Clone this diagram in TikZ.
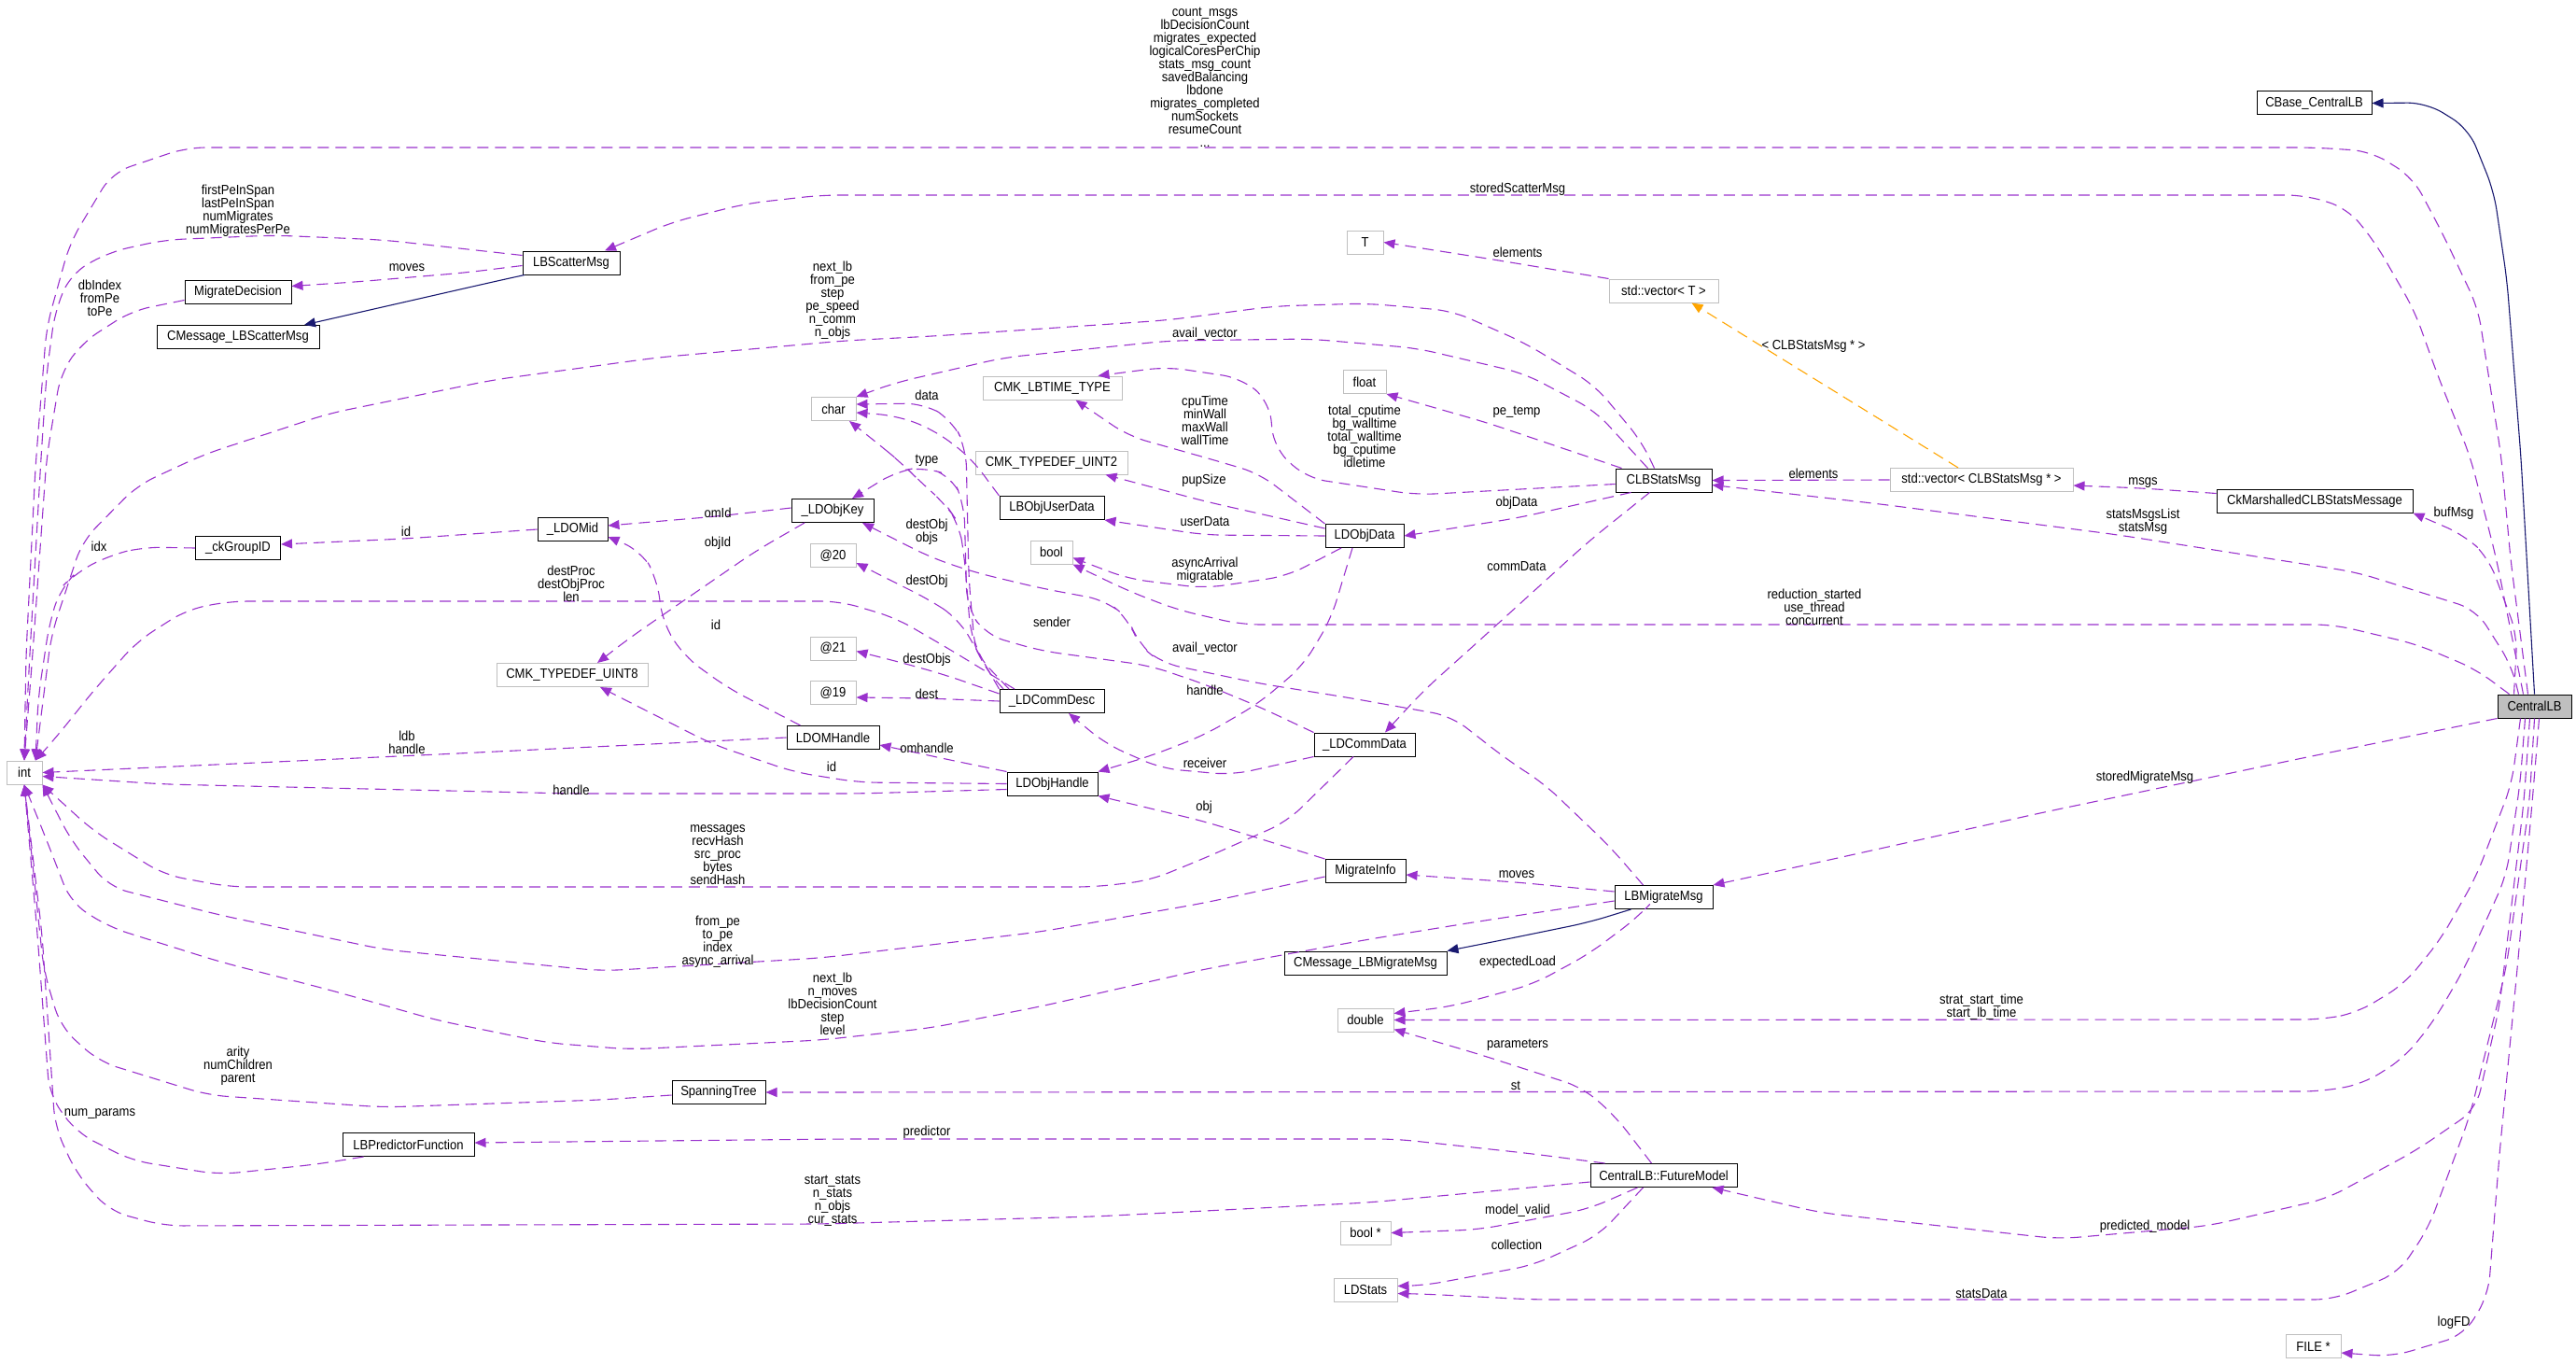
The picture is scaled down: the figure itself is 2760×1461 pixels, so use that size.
\documentclass[tikz,border=0pt]{standalone}
\usepackage{fontspec}
\newfontfamily\dox{Liberation Sans}[FakeStretch=0.9]
\newcommand\doxfont{\dox\fontsize{14.5}{14}\selectfont}
\usetikzlibrary{arrows.meta}
\definecolor{doxpurple}{HTML}{9A32CD}
\definecolor{doxnavy}{HTML}{191970}
\definecolor{doxorange}{HTML}{FFA500}
\definecolor{doxgray}{HTML}{BFBFBF}
\begin{document}
\begin{tikzpicture}[x=1pt, y=-1pt,
  cls/.style={draw=black, line width=1pt, minimum height=25pt, inner sep=0pt, font=\doxfont},
  ext/.style={cls, draw=doxgray},
  mem/.style={draw=doxpurple, line width=1.1pt, dash pattern=on 12pt off 7pt, rounded corners=20pt, -{Triangle[length=12pt,width=10pt]}},
  inh/.style={draw=doxnavy, line width=1.1pt, rounded corners=20pt, -{Triangle[length=12pt,width=10pt]}},
  tpl/.style={mem, draw=doxorange},
  lbl/.style={font=\doxfont, align=center, inner sep=0pt}]

		\useasboundingbox (0,0) rectangle (2760,1461);

		\node[cls, fill=doxgray, minimum width=79pt] (clb) at (2715.5,756.5) {CentralLB};
		\node[cls, minimum width=123pt] (cbase) at (2479.5,110.5) {CBase\_CentralLB};
		\node[cls, minimum width=104pt] (lbs) at (612,281.5) {LBScatterMsg};
		\node[cls, minimum width=114pt] (md) at (255,312.5) {MigrateDecision};
		\node[cls, minimum width=174pt] (cms) at (255,361) {CMessage\_LBScatterMsg};
		\node[ext, minimum width=48pt] (chr) at (893,438) {char};
		\node[ext, minimum width=39pt] (t) at (1462.5,259.5) {T};
		\node[ext, minimum width=117pt] (vt) at (1782.5,311.5) {std::vector< T >};
		\node[ext, minimum width=46pt] (flt) at (1462,409) {float};
		\node[cls, minimum width=103pt] (clbs) at (1782.5,514.5) {CLBStatsMsg};
		\node[cls, minimum width=84pt] (objd) at (1462,574) {LDObjData};
		\node[ext, minimum width=149pt] (lbt) at (1127.5,415.5) {CMK\_LBTIME\_TYPE};
		\node[ext, minimum width=163pt] (ui2) at (1126.5,495.5) {CMK\_TYPEDEF\_UINT2};
		\node[cls, minimum width=112pt] (lou) at (1127,544) {LBObjUserData};
		\node[ext, minimum width=45pt] (bool) at (1126.5,591.5) {bool};
		\node[cls, minimum width=88pt] (lok) at (892,547) {\_LDObjKey};
		\node[ext, minimum width=49pt] (a20) at (892.5,595) {@20};
		\node[ext, minimum width=49pt] (a21) at (892.5,694.5) {@21};
		\node[ext, minimum width=49pt] (a19) at (892.5,742) {@19};
		\node[cls, minimum width=112pt] (lcdesc) at (1127,751) {\_LDCommDesc};
		\node[cls, minimum width=99pt] (ldh) at (892.5,790) {LDOMHandle};
		\node[cls, minimum width=97pt] (loh) at (1127.5,839.5) {LDObjHandle};
		\node[cls, minimum width=75pt] (lom) at (613.5,567) {\_LDOMid};
		\node[cls, minimum width=91pt] (ckg) at (255,587) {\_ckGroupID};
		\node[ext, minimum width=162pt] (ui8) at (613,723) {CMK\_TYPEDEF\_UINT8};
		\node[ext, minimum width=38pt] (int) at (26,827.5) {int};
		\node[cls, minimum width=108pt] (lcd) at (1462,797.5) {\_LDCommData};
		\node[ext, minimum width=196pt] (vcl) at (2123,514) {std::vector< CLBStatsMsg * >};
		\node[cls, minimum width=210pt] (ckm) at (2480,536.5) {CkMarshalledCLBStatsMessage};
		\node[cls, minimum width=86pt] (mi) at (1463,933) {MigrateInfo};
		\node[cls, minimum width=105pt] (lbm) at (1782.5,961) {LBMigrateMsg};
		\node[cls, minimum width=174pt] (cmm) at (1463,1031.5) {CMessage\_LBMigrateMsg};
		\node[ext, minimum width=60pt] (dbl) at (1463,1092.5) {double};
		\node[cls, minimum width=157pt] (fm) at (1782.5,1259) {CentralLB::FutureModel};
		\node[ext, minimum width=54pt] (bp) at (1463,1320.5) {bool *};
		\node[ext, minimum width=68pt] (lds) at (1463,1381.5) {LDStats};
		\node[cls, minimum width=100pt] (spt) at (770,1170) {SpanningTree};
		\node[cls, minimum width=141pt] (lpf) at (437.5,1226) {LBPredictorFunction};
		\node[ext, minimum width=59pt] (file) at (2478.5,1442) {FILE *};

		\draw[inh] (clb.north) -- (2701,490) -- (2686,300) -- (2672,205) -- (2645,138) -- (2600,110) -- (cbase.east);
		\draw[mem] ([xshift=-7pt]clb.north) -- (2690,600) -- (2680,490) -- (2655,330) -- (2617,250) -- (2585,190) -- (2540,162) -- (2480,158) -- (200,158) -- (120,185) -- (75,260) -- (50,350) -- (38,500) -- (28,700) -- (int.north);
		\draw[mem] ([xshift=-12pt]clb.north) -- (2675,600) -- (2647,490) -- (2611,400) -- (2587,333) -- (2545,260) -- (2515,223) -- (2470,209) -- (880,209) -- (800,218) -- (720,238) -- ([xshift=36pt]lbs.north);
		\draw[mem] ([xshift=-17pt]clb.north) -- (2691,713) -- (2653,653) -- (2525,613) -- (2270,573) -- (2015,540) -- ([yshift=-5pt]clbs.east);
		\draw[mem] ([xshift=-22pt]clb.north) -- (2697,680) -- (2666,597) -- (2640,573) -- (ckm.south east);
		\draw[mem] ([xshift=-27pt]clb.north) -- (2653,717) -- (2589,690) -- (2500,669) -- (1330,669) -- (1261,653) -- (1209,633) -- (bool.south east);
		\draw[mem] (clb.south west) -- (2462,813) -- (2190,870) -- (1951,923) -- (lbm.north east);
		\draw[mem] ([xshift=-15pt]clb.south) -- (2691,840) -- (2653,939) -- (2615,1006) -- (2576,1054) -- (2525,1085) -- (2487,1092) -- (dbl.east);
		\draw[mem] ([xshift=-10pt]clb.south) -- (2700,840) -- (2685,939) -- (2640,1038) -- (2608,1093) -- (2576,1133) -- (2532,1161) -- (2487,1169) -- (spt.east);
		\draw[mem] ([xshift=-5pt]clb.south) -- (2704,860) -- (2678,1078) -- (2653,1188) -- (2589,1232) -- (2493,1284) -- (2366,1313) -- (2206,1327) -- (1951,1299) -- ([xshift=52pt]fm.south);
		\draw[mem] (clb.south) -- (2710,860) -- (2685,1038) -- (2646,1196) -- (2602,1315) -- (2570,1363) -- (2500,1392) -- (1643,1392) -- (1525,1386) -- ([yshift=-4pt]lds.east);
		\draw[mem] ([xshift=5pt]clb.south) -- (2713,860) -- (2697,1038) -- (2678,1236) -- (2666,1387) -- (2640,1430) -- (2563,1453) -- ([yshift=-7pt]file.east);

		\draw[mem] ([xshift=-10pt]clbs.north) -- (1759,473) -- (1709,413) -- (1633,367) -- (1556,333) -- (1464,325) -- (1365,328) -- (1250,343) -- (1000,360) -- (904,365) -- (704,383) -- (528,407) -- (352,443) -- (218,487) -- (147,520) -- (88,580) -- (55,680) -- ([xshift=12pt]int.north);
		\draw[mem] ([xshift=-17pt]clbs.north) -- (1709,440) -- (1633,400) -- (1518,373) -- (1403,363) -- (1252,365) -- (1076,383) -- (959,410) -- (chr.north east);
		\draw[mem] ([xshift=-45pt]clbs.north) -- (1594,453) -- (flt.south east);
		\draw[mem] ([yshift=-4pt]clbs.west) -- (1518,530) -- (1400,512) -- (1365,480) -- (1360,430) -- (1330,405) -- (1250,393) -- ([xshift=49pt]lbt.north);
		\draw[mem] ([xshift=-35pt]clbs.south) -- (1625,555) -- (objd.east);
		\draw[mem] ([xshift=-15pt]clbs.south) -- (1702,580) -- (1584,687) -- (1525,740) -- ([xshift=22pt]lcd.north);

		\draw[mem] (vcl.west) -- (clbs.east);
		\draw[tpl] ([xshift=-25pt]vcl.north) -- ([xshift=30pt]vt.south);
		\draw[mem] ([yshift=8pt]ckm.west) -- (2296,523) -- ([yshift=-6pt]vcl.east);
		\draw[mem] (vt.north west) -- (1594,277) -- (t.east);

		\draw[mem] (objd.north west) -- (1349,507) -- (1291,490) -- (1209,467) -- ([xshift=25pt]lbt.south);
		\draw[mem] ([yshift=8pt]objd.west) -- (1291,537) -- ([xshift=58pt]ui2.south);
		\draw[mem] (objd.west) -- (1291,573) -- (lou.south east);
		\draw[mem] ([xshift=-25pt]objd.south) -- (1379,617) -- (1291,630) -- (1209,620) -- ([yshift=-6pt]bool.east);
		\draw[mem] ([xshift=-13pt]objd.south) -- (1426,663) -- (1396,713) -- (1349,753) -- (1291,787) -- (1232,810) -- (loh.north east);

		\draw[mem] (lcd.south west) -- (1320,830) -- (1244,823) -- (1185,797) -- ([xshift=18pt]lcdesc.south);
		\draw[mem] ([xshift=-12pt]lcd.south) -- (1420,840) -- (1379,880) -- (1291,919) -- (1232,943) -- (1173,950) -- (246,950) -- (176,937) -- (100,890) -- (int.south east);
		\draw[mem] (lcd.north west) -- (1349,757) -- (1291,733) -- (1232,713) -- (1115,697) -- (1056,680) -- (1036,650) -- (1033,540) -- (1020,510) -- (990,500) -- (960,505) -- ([xshift=21pt]lok.north);

		\draw[mem] (lou.north west) -- (1040,490) -- (1000,460) -- (960,445) -- ([yshift=-4pt]chr.east);
		\draw[mem] ([xshift=-46pt]lcdesc.north) -- (1045,700) -- (1038,620) -- (1035,480) -- (1020,450) -- (990,432) -- ([yshift=5pt]chr.east);
		\draw[mem] ([xshift=-52pt]lcdesc.north) -- (1053,713) -- (1040,680) -- (1033,593) -- (1027,560) -- (1013,540) -- (987,517) -- (967,497) -- (943,477) -- ([xshift=17pt]chr.south);
		\draw[mem] (lcdesc.north west) -- (1047,697) -- (1027,663) -- (997,643) -- (957,623) -- ([yshift=-8pt]a20.east);
		\draw[mem] ([yshift=8pt]lcdesc.west) -- (1013,723) -- (967,710) -- ([yshift=-3pt]a21.east);
		\draw[mem] (lcdesc.west) -- (993,748) -- ([yshift=-5pt]a19.east);
		\draw[mem] ([xshift=-40pt]lcdesc.north) -- (1020,697) -- (960,662) -- (900,644) -- (246,644) -- (200,653) -- (147,687) -- (100,740) -- (60,790) -- ([xshift=12pt]int.north);

		\draw[mem] ([xshift=-35pt]ldh.north) -- (780,737) -- (733,703) -- (710,667) -- (704,620) -- (687,590) -- ([yshift=-8pt]lom.east);
		\draw[mem] (ldh.west) -- (470,808) -- (int.east);
		\draw[mem] (loh.north west) -- (1013,813) -- (967,803) -- ([yshift=-8pt]ldh.east);
		\draw[mem] (loh.west) -- (920,838) -- (851,827) -- (763,797) -- (690,760) -- ([xshift=30pt]ui8.south);
		\draw[mem] ([yshift=-6pt]loh.west) -- (920,850) -- (612,850) -- (176,840) -- ([yshift=-4pt]int.east);

		\draw[mem] ([yshift=3pt]lok.west) -- (769,553) -- ([yshift=4pt]lom.east);
		\draw[mem] ([xshift=-30pt]lok.south) -- (810,590) -- (733,643) -- (675,683) -- ([xshift=27pt]ui8.north);
		\draw[mem] (lom.west) -- (434,577) -- ([yshift=4pt]ckg.east);
		\draw[mem] (ckg.west) -- (153,586) -- (117,595) -- (82,613) -- (65,630) -- (53,667) -- (41,747) -- ([xshift=12pt]int.north);

		\draw[mem] ([yshift=8pt]lbs.west) -- (411,257) -- (293,252) -- (176,257) -- (117,270) -- (76,293) -- (59,333) -- (50,400) -- (44,490) -- (32,700) -- (int.north);
		\draw[mem] ([yshift=-3pt]lbs.west) -- (499,292) -- (381,302) -- ([yshift=6pt]md.east);
		\draw[inh] ([xshift=-50pt]lbs.south) -- (528,302) -- ([xshift=71pt]cms.north);
		\draw[mem] ([yshift=-9pt]md.west) -- (141,333) -- (88,367) -- (65,400) -- (50,490) -- (35,700) -- (int.north);

		\draw[mem] (mi.north west) -- (1291,880) -- (loh.south east);
		\draw[mem] ([yshift=-6pt]mi.west) -- (1291,967) -- (1115,998) -- (880,1026) -- (645,1040) -- (411,1017) -- (235,980) -- (117,950) -- (76,900) -- (int.south east);

		\draw[mem] ([yshift=6pt]lbm.west) -- (1625,945) -- ([yshift=-4pt]mi.east);
		\draw[inh] ([xshift=-35pt]lbm.south) -- (1702,988) -- (1614,1006) -- (cmm.north east);
		\draw[mem] ([xshift=-20pt]lbm.south) -- (1754,983) -- (1702,1022) -- (1643,1054) -- (1555,1078) -- ([yshift=7pt]dbl.east);
		\draw[mem] ([yshift=-4pt]lbm.west) -- (1584,987) -- (1467,1006) -- (1291,1038) -- (1115,1078) -- (997,1101) -- (880,1114) -- (675,1124) -- (587,1117) -- (469,1093) -- (352,1060) -- (235,1030) -- (117,993) -- (76,967) -- (50,900) -- (int.south);
		\draw[mem] ([xshift=-22pt]lbm.north) -- (1725,907) -- (1655,840) -- (1614,813) -- (1555,767) -- (1443,747) -- (1349,732) -- (1244,710) -- (1220,690) -- (1209,663) -- (1185,643) -- (1115,630) -- (1044,613) -- (997,597) -- ([xshift=32pt]lok.south);

		\draw[mem] ([xshift=-63pt]fm.north) -- (1643,1236) -- (1496,1220) -- (900,1220) -- ([yshift=2pt]lpf.east);
		\draw[mem] ([xshift=-13pt]fm.north) -- (1731,1196) -- (1696,1165) -- (1584,1129) -- ([yshift=-10pt]dbl.east);
		\draw[mem] ([yshift=-7pt]fm.west) -- (1467,1288) -- (1173,1303) -- (880,1311) -- (176,1313) -- (117,1297) -- (82,1257) -- (59,1207) -- (45,1000) -- (int.south);
		\draw[mem] ([xshift=-28pt]fm.south) -- (1702,1295) -- (1584,1317) -- (bp.east);
		\draw[mem] ([xshift=-22pt]fm.south) -- (1713,1323) -- (1643,1355) -- (1525,1377) -- ([yshift=4pt]lds.east);

		\draw[mem] ([yshift=-3pt]spt.west) -- (645,1178) -- (411,1186) -- (223,1173) -- (106,1137) -- (65,1100) -- (47,1040) -- (int.south);
		\draw[mem] ([xshift=-48pt]lpf.south) -- (340,1247) -- (235,1258) -- (141,1243) -- (82,1213) -- (53,1173) -- (40,1000) -- (int.south);

		\node[lbl] (l01) at (1291,83) {count\_msgs\\lbDecisionCount\\migrates\_expected\\logicalCoresPerChip\\stats\_msg\_count\\savedBalancing\\lbdone\\migrates\_completed\\numSockets\\resumeCount\\...};
		\node[lbl] (l02) at (1626,203) {storedScatterMsg};
		\node[lbl] (l03) at (255,226) {firstPeInSpan\\lastPeInSpan\\numMigrates\\numMigratesPerPe};
		\node[lbl] (l04) at (436,287) {moves};
		\node[lbl] (l05) at (107,319) {dbIndex\\fromPe\\toPe};
		\node[lbl] (l06) at (892,322) {next\_lb\\from\_pe\\step\\pe\_speed\\n\_comm\\n\_objs};
		\node[lbl] (l07) at (1626,270) {elements};
		\node[lbl] (l08) at (1943,371) {< CLBStatsMsg * >};
		\node[lbl] (l09) at (1291,358) {avail\_vector};
		\node[lbl] (l10) at (993,423) {data};
		\node[lbl] (l11) at (1291,450) {cpuTime\\minWall\\maxWall\\wallTime};
		\node[lbl] (l12) at (1462,467) {total\_cputime\\bg\_walltime\\total\_walltime\\bg\_cputime\\idletime};
		\node[lbl] (l13) at (1625,441) {pe\_temp};
		\node[lbl] (l14) at (993,493) {type};
		\node[lbl] (l15) at (1290,515) {pupSize};
		\node[lbl] (l16) at (1943,507) {elements};
		\node[lbl] (l17) at (2296,517) {msgs};
		\node[lbl] (l18) at (1625,539) {objData};
		\node[lbl] (l19) at (769,549) {omId};
		\node[lbl] (l20) at (2296,559) {statsMsgsList\\statsMsg};
		\node[lbl] (l21) at (2629,550) {bufMsg};
		\node[lbl] (l22) at (1291,559) {userData};
		\node[lbl] (l23) at (993,570) {destObj\\objs};
		\node[lbl] (l24) at (106,585) {idx};
		\node[lbl] (l25) at (435,569) {id};
		\node[lbl] (l26) at (769,582) {objId};
		\node[lbl] (l27) at (1291,611) {asyncArrival\\migratable};
		\node[lbl] (l28) at (1625,607) {commData};
		\node[lbl] (l29) at (612,625) {destProc\\destObjProc\\len};
		\node[lbl] (l30) at (993,623) {destObj};
		\node[lbl] (l31) at (1944,650) {reduction\_started\\use\_thread\\concurrent};
		\node[lbl] (l32) at (1127,666) {sender};
		\node[lbl] (l33) at (767,669) {id};
		\node[lbl] (l34) at (1291,695) {avail\_vector};
		\node[lbl] (l35) at (993,707) {destObjs};
		\node[lbl] (l36) at (1291,739) {handle};
		\node[lbl] (l37) at (993,743) {dest};
		\node[lbl] (l38) at (436,795) {ldb\\handle};
		\node[lbl] (l39) at (993,801) {omhandle};
		\node[lbl] (l40) at (1291,817) {receiver};
		\node[lbl] (l41) at (891,821) {id};
		\node[lbl] (l42) at (2298,833) {storedMigrateMsg};
		\node[lbl] (l43) at (612,846) {handle};
		\node[lbl] (l44) at (1290,865) {obj};
		\node[lbl] (l45) at (769,916) {messages\\recvHash\\src\_proc\\bytes\\sendHash};
		\node[lbl] (l46) at (1625,937) {moves};
		\node[lbl] (l47) at (769,1009) {from\_pe\\to\_pe\\index\\async\_arrival};
		\node[lbl] (l48) at (1626,1031) {expectedLoad};
		\node[lbl] (l49) at (892,1075) {next\_lb\\n\_moves\\lbDecisionCount\\step\\level};
		\node[lbl] (l50) at (2123,1079) {strat\_start\_time\\start\_lb\_time};
		\node[lbl] (l51) at (1626,1119) {parameters};
		\node[lbl] (l52) at (255,1142) {arity\\numChildren\\parent};
		\node[lbl] (l53) at (1624,1163) {st};
		\node[lbl] (l54) at (107,1193) {num\_params};
		\node[lbl] (l55) at (993,1213) {predictor};
		\node[lbl] (l56) at (892,1286) {start\_stats\\n\_stats\\n\_objs\\cur\_stats};
		\node[lbl] (l57) at (1626,1297) {model\_valid};
		\node[lbl] (l58) at (2298,1314) {predicted\_model};
		\node[lbl] (l59) at (1625,1333) {collection};
		\node[lbl] (l60) at (2123,1386) {statsData};
		\node[lbl] (l61) at (2629,1417) {logFD};

	\end{tikzpicture}
\end{document}
